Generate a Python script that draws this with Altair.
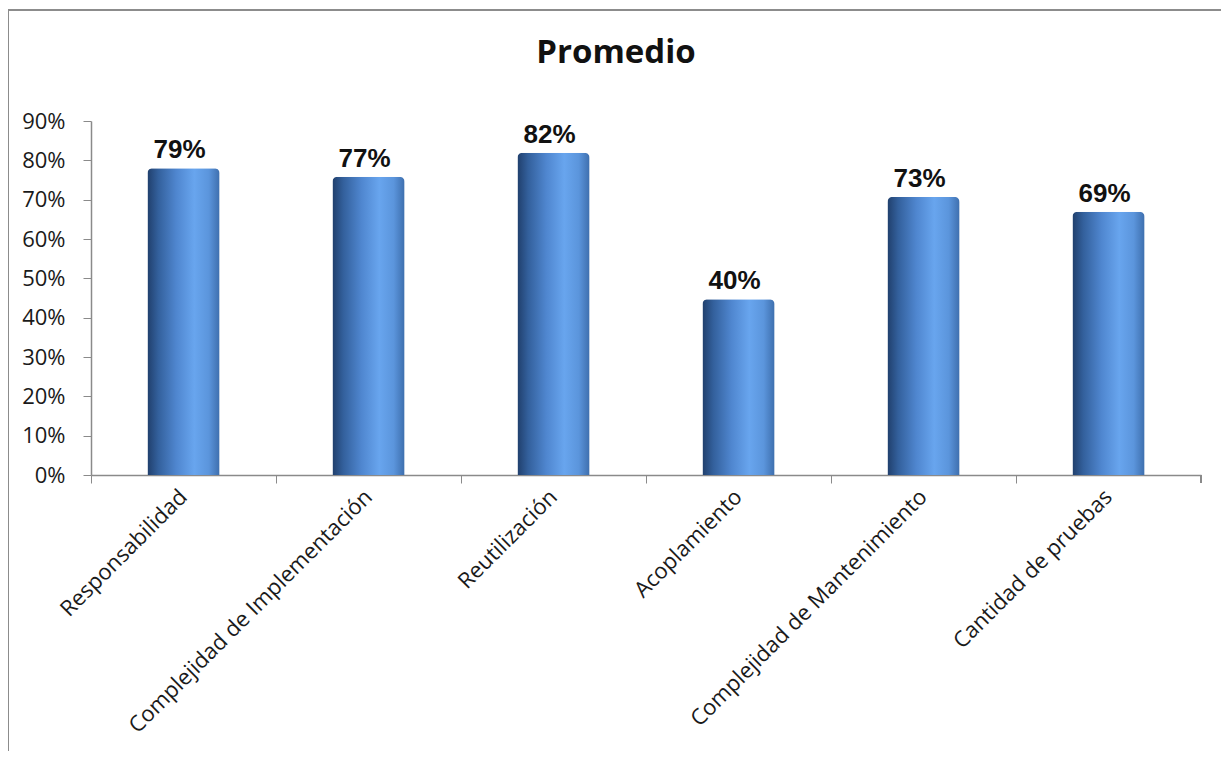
import altair as alt
import pandas as pd

categories = [
    "Responsabilidad",
    "Complejidad de Implementación",
    "Reutilización",
    "Acoplamiento",
    "Complejidad de Mantenimiento",
    "Cantidad de pruebas",
]
# bar heights as drawn in the picture (fractions)
bar_values = [0.78, 0.758, 0.819, 0.447, 0.707, 0.669]
# printed data labels
label_texts = ["79%", "77%", "82%", "40%", "73%", "69%"]
y_ticks = [0.0, 0.1, 0.2, 0.3, 0.4, 0.5, 0.6, 0.7, 0.8, 0.9]
chart_title = "Promedio"

df = pd.DataFrame({"cat": categories, "val": bar_values, "lab": label_texts})
title_df = pd.DataFrame({"t": [chart_title]})

W, H = 1110, 354
FONT = "Open Sans"
GRAY = "#8a8a8a"

x_enc = alt.X(
    "cat:N",
    sort=categories,
    scale=alt.Scale(paddingInner=0, paddingOuter=0),
    axis=alt.Axis(
        title=None,
        labelAngle=-45,
        labelAlign="right",
        labelBaseline="middle",
        labelFont=FONT,
        labelFontSize=22,
        labelColor="#1a1a1a",
        labelPadding=10,
        labelLimit=500,
        bandPosition=0,
        tickSize=8,
        tickColor=GRAY,
        domainColor=GRAY,
        domainWidth=1.5,
    ),
)

y_enc = alt.Y(
    "val:Q",
    scale=alt.Scale(domain=[0, 0.9], nice=False, zero=True),
    axis=alt.Axis(
        title=None,
        values=y_ticks,
        format=".0%",
        labelFont=FONT,
        labelFontSize=22,
        labelColor="#1a1a1a",
        labelPadding=18,
        labelOverlap=False,
        labelBaseline="middle",
        tickSize=8,
        tickColor=GRAY,
        domainColor=GRAY,
        domainWidth=1.5,
        grid=False,
    ),
)

grad = alt.Gradient(
    gradient="linear",
    x1=0, x2=1, y1=0, y2=0,
    stops=[
        alt.GradientStop(color="#203f6c", offset=0),
        alt.GradientStop(color="#33609c", offset=0.15),
        alt.GradientStop(color="#4f86cf", offset=0.4),
        alt.GradientStop(color="#68a5ee", offset=0.65),
        alt.GradientStop(color="#5b95dc", offset=0.85),
        alt.GradientStop(color="#3e6fae", offset=1),
    ],
)

base = alt.Chart(df)

bars = base.mark_bar(
    color=grad,
    width=alt.RelativeBandSize(0.39),
    cornerRadiusTopLeft=5,
    cornerRadiusTopRight=5,
).encode(x=x_enc, y=y_enc)

labels = base.mark_text(
    font="Liberation Sans",
    fontSize=26,
    fontWeight="bold",
    color="#111111",
    baseline="alphabetic",
    dy=-10,
    dx=-4,
).encode(x=x_enc, y=y_enc, text="lab:N")

end_tick = base.mark_rule(color=GRAY, strokeWidth=1.5).encode(
    x=alt.value(W), y=alt.value(H), y2=alt.value(H + 8)
)

frame = base.mark_rect(fill="transparent", stroke="#8c8c8c", strokeWidth=2, clip=False).encode(
    x=alt.value(-83), x2=alt.value(1400), y=alt.value(-111), y2=alt.value(1000)
)

title = alt.Chart(title_df).mark_text(
    font=FONT,
    fontSize=33,
    fontWeight="bold",
    color="#111111",
    align="center",
    baseline="alphabetic",
).encode(x=alt.value(525), y=alt.value(-58), text="t:N")

chart = (
    alt.layer(frame, bars, labels, end_tick, title)
    .properties(
        width=W,
        height=H,
        autosize=alt.AutoSizeParams(type="none"),
        padding={"left": 83, "top": 113, "right": 20, "bottom": 276},
    )
    .configure(background="white")
    .configure_view(strokeWidth=0, stroke="transparent")
)

chart.save("out.html", embed_options={"renderer": "svg", "actions": False})
